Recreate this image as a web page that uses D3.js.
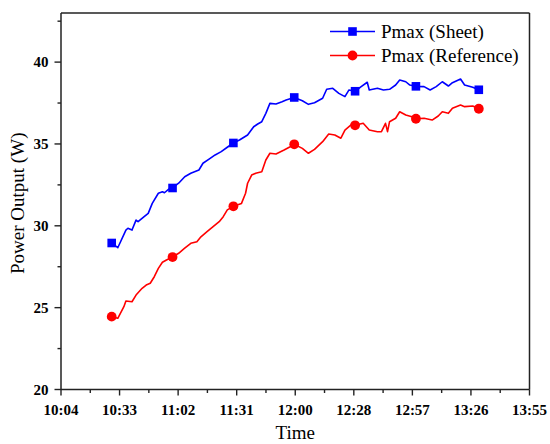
<!DOCTYPE html>
<html>
<head>
<meta charset="utf-8">
<script src="https://cdn.jsdelivr.net/npm/d3@7"></script>
<style>
  body { margin: 0; background: #fff; }
  svg { display: block; font-family: "Liberation Serif", "Times New Roman", serif; }
</style>
</head>
<body>
<svg id="chart" width="550" height="444"></svg>
<script>
// tick labels
const xTickLabels = ["10:04", "10:33", "11:02", "11:31", "12:00", "12:28", "12:57", "13:26", "13:55"];
const yTicks = [20, 25, 30, 35, 40];

// Pmax (Sheet)
const timeSheet = ["10:29","10:32","10:36","10:37","10:39","10:41","10:42","10:45","10:47","10:49",
  "10:52","10:54","10:55","10:57","10:59","11:02","11:05","11:08","11:12","11:14",
  "11:17","11:20","11:23","11:26","11:29","11:32","11:36","11:39","11:41","11:43",
  "11:45","11:47","11:50","11:53","11:55","11:59","12:03","12:06","12:09","12:13",
  "12:15","12:18","12:21","12:24","12:26","12:29","12:32","12:35","12:36","12:40",
  "12:43","12:46","12:49","12:51","12:54","12:56","12:59","13:03","13:06","13:09",
  "13:12","13:15","13:17","13:21","13:23","13:27","13:30"];
const powerSheet = [28.95,28.66,29.74,29.85,29.74,30.35,30.25,30.56,30.76,31.37,
  31.99,32.08,32.02,32.23,32.31,32.60,33.00,33.21,33.41,33.82,
  34.07,34.33,34.53,34.80,35.06,35.24,35.55,36.05,36.22,36.36,
  36.87,37.48,37.44,37.58,37.68,37.84,37.64,37.42,37.52,37.79,
  38.34,38.40,38.09,37.89,38.30,38.22,38.50,38.77,38.30,38.40,
  38.30,38.34,38.60,38.91,38.80,38.60,38.52,38.50,38.30,38.50,
  38.80,38.54,38.74,38.97,38.60,38.46,38.31];

// Pmax (Reference)
const timeRef = ["10:29","10:32","10:35","10:36","10:39","10:41","10:44","10:46","10:48","10:50",
  "10:52","10:54","10:56","10:59","11:02","11:05","11:08","11:11","11:13","11:16",
  "11:19","11:22","11:24","11:26","11:29","11:33","11:35","11:36","11:38","11:40",
  "11:43","11:45","11:47","11:50","11:54","11:57","11:59","12:03","12:06","12:09",
  "12:13","12:16","12:19","12:22","12:24","12:27","12:29","12:33","12:36","12:40",
  "12:42","12:44","12:45","12:46","12:49","12:51","12:54","12:57","12:59","13:03",
  "13:07","13:10","13:12","13:15","13:17","13:21","13:23","13:27","13:30"];
const powerRef = [24.45,24.35,25.06,25.41,25.36,25.77,26.18,26.38,26.49,26.89,
  27.40,27.77,27.91,28.09,28.32,28.63,28.93,29.03,29.33,29.64,
  29.95,30.25,30.56,30.97,31.19,31.37,31.99,32.60,33.10,33.21,
  33.30,34.02,34.43,34.39,34.63,34.83,34.98,34.73,34.43,34.67,
  35.14,35.61,35.55,35.35,35.85,36.16,36.14,36.26,35.85,35.75,
  35.75,36.26,35.75,36.36,36.57,36.97,36.77,36.66,36.54,36.57,
  36.46,36.71,36.97,36.87,37.18,37.38,37.28,37.32,37.15];

const markerTimes = ["10:29","10:59","11:29","11:59","12:29","12:59","13:30"];

const toMin = s => { const p = s.split(":"); return +p[0] * 60 + +p[1]; };

const margin = {left: 61, right: 20.5, top: 13, bottom: 54.5};
const W = 550, H = 444;
const width = W - margin.left - margin.right;
const height = H - margin.top - margin.bottom;

const svg = d3.select("#chart");
const g = svg.append("g").attr("transform", `translate(${margin.left},${margin.top})`);

const x0 = toMin(xTickLabels[0]), x1 = toMin(xTickLabels[xTickLabels.length - 1]);
const x = d3.scaleLinear().domain([x0, x1]).range([0, width]);
const y = d3.scaleLinear().domain([20, 43]).range([height, 0]);

const step = (x1 - x0) / (xTickLabels.length - 1);
const xMajor = xTickLabels.map((d, i) => x0 + i * step);
const xMinor = xMajor.slice(0, -1).map(d => d + step / 2);
const yMinor = [22.5, 27.5, 32.5, 37.5, 42.5];

const axisColor = "#222";

// x axis
const xAxis = g.append("g").attr("transform", `translate(0,${height})`);
xAxis.append("line").attr("x1", 0).attr("x2", width).attr("stroke", axisColor).attr("stroke-width", 1.5);
xAxis.selectAll(".maj").data(xMajor).enter().append("line")
  .attr("x1", d => x(d)).attr("x2", d => x(d)).attr("y1", 0).attr("y2", 6)
  .attr("stroke", axisColor).attr("stroke-width", 1.4);
xAxis.selectAll(".min").data(xMinor).enter().append("line")
  .attr("x1", d => x(d)).attr("x2", d => x(d)).attr("y1", 0).attr("y2", 3.5)
  .attr("stroke", axisColor).attr("stroke-width", 1.4);
xAxis.selectAll(".lbl").data(xMajor).enter().append("text")
  .attr("x", d => x(d)).attr("y", 25)
  .attr("text-anchor", "middle").attr("font-size", 15).attr("font-weight", "bold")
  .text((d, i) => xTickLabels[i]);

// y axis
const yAxis = g.append("g");
yAxis.append("line").attr("y1", 0).attr("y2", height).attr("stroke", axisColor).attr("stroke-width", 1.5);
yAxis.selectAll(".maj").data(yTicks).enter().append("line")
  .attr("y1", d => y(d)).attr("y2", d => y(d)).attr("x1", -6.5).attr("x2", 0)
  .attr("stroke", axisColor).attr("stroke-width", 1.4);
yAxis.selectAll(".min").data(yMinor).enter().append("line")
  .attr("y1", d => y(d)).attr("y2", d => y(d)).attr("x1", -3.5).attr("x2", 0)
  .attr("stroke", axisColor).attr("stroke-width", 1.4);
yAxis.selectAll(".lbl").data(yTicks).enter().append("text")
  .attr("x", -12.5).attr("y", d => y(d)).attr("dy", "0.35em")
  .attr("text-anchor", "end").attr("font-size", 15).attr("font-weight", "bold")
  .text(d => d);

// frame top/right
g.append("line").attr("x1", 0).attr("x2", width).attr("y1", 0).attr("y2", 0)
  .attr("stroke", axisColor).attr("stroke-width", 1.5);
g.append("line").attr("x1", width).attr("x2", width).attr("y1", 0).attr("y2", height)
  .attr("stroke", axisColor).attr("stroke-width", 1.5);

// axis titles
svg.append("text").attr("x", margin.left + width / 2).attr("y", 439)
  .attr("text-anchor", "middle").attr("font-size", 19).text("Time");
svg.append("text")
  .attr("transform", `translate(24,${margin.top + height / 2 + 2}) rotate(-90)`)
  .attr("text-anchor", "middle").attr("font-size", 19).text("Power Output (W)");

// series
const series = [
  {name: "Pmax (Sheet)", times: timeSheet, values: powerSheet, color: "#0000ff", shape: "square"},
  {name: "Pmax (Reference)", times: timeRef, values: powerRef, color: "#ff0000", shape: "circle"}
];

const line = d3.line().x(d => x(d.t)).y(d => y(d.v));

function drawMarker(sel, shape, color) {
  if (shape === "square") {
    sel.append("rect").attr("x", -4.3).attr("y", -4.3).attr("width", 8.6).attr("height", 8.6).attr("fill", color);
  } else {
    sel.append("circle").attr("r", 4.9).attr("fill", color);
  }
}

series.forEach(s => {
  const pts = s.times.map((t, i) => ({t: toMin(t), v: s.values[i], label: t}));
  g.append("path").datum(pts).attr("d", line)
    .attr("fill", "none").attr("stroke", s.color).attr("stroke-width", 1.6).attr("stroke-linejoin", "round");
  const mk = pts.filter(p => markerTimes.includes(p.label));
  mk.forEach(p => {
    const m = g.append("g").attr("transform", `translate(${x(p.t)},${y(p.v)})`);
    drawMarker(m, s.shape, s.color);
  });
});

// legend
const legend = svg.append("g");
series.forEach((s, i) => {
  const ly = 31.5 + i * 24;
  legend.append("line").attr("x1", 330).attr("x2", 375).attr("y1", ly).attr("y2", ly)
    .attr("stroke", s.color).attr("stroke-width", 1.6);
  const m = legend.append("g").attr("transform", `translate(352.5,${ly})`);
  drawMarker(m, s.shape, s.color);
  legend.append("text").attr("x", 381).attr("y", ly).attr("dy", "0.33em")
    .attr("font-size", 19).text(s.name);
});
</script>
</body>
</html>
